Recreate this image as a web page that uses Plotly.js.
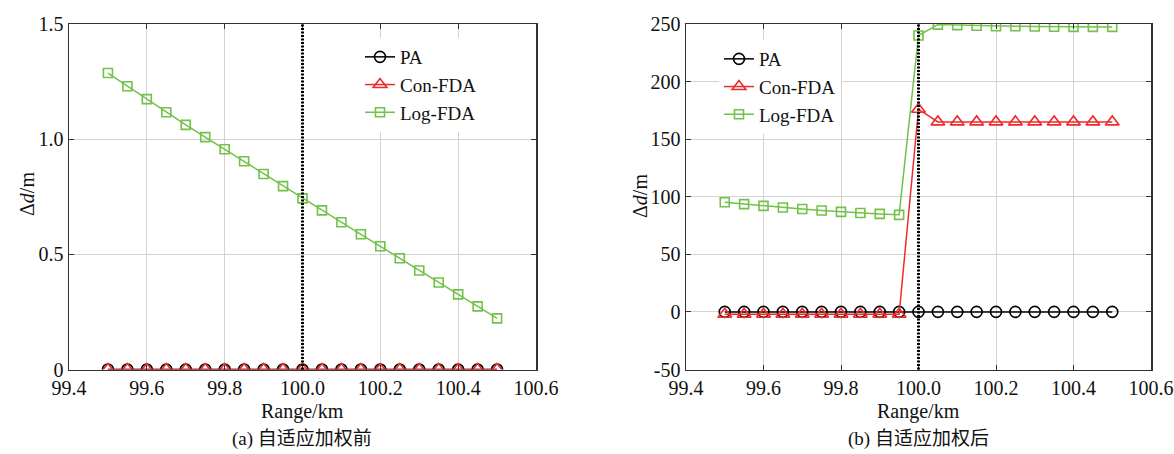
<!DOCTYPE html>
<html><head><meta charset="utf-8">
<script src="https://cdn.plot.ly/plotly-3.0.1.min.js"></script>
<style>html,body{margin:0;padding:0;background:#fff}#chart{width:1174px;height:454px}</style>
</head><body><div id="chart"></div>
<script>
// ---- data ----
const rangeKm = [99.5,99.55,99.6,99.65,99.7,99.75,99.8,99.85,99.9,99.95,100.0,100.05,100.1,100.15,100.2,100.25,100.3,100.35,100.4,100.45,100.5];
const paA  = [0,0,0,0,0,0,0,0,0,0,0,0,0,0,0,0,0,0,0,0,0];
const conA = [0,0,0,0,0,0,0,0,0,0,0,0,0,0,0,0,0,0,0,0,0];
const logA = [1.287,1.230,1.174,1.117,1.062,1.009,0.956,0.904,0.849,0.796,0.743,0.691,0.639,0.587,0.535,0.483,0.430,0.378,0.326,0.274,0.222];
const paB  = [0,0,0,0,0,0,0,0,0,0,0,0,0,0,0,0,0,0,0,0,0];
const conB = [-2,-2,-2,-2,-2,-2,-2,-2,-2,-2,176,165,165,165,165,165,165,165,165,165,165];
const logB = [95.2,93.6,92.1,90.7,89.3,88.0,86.9,85.9,85.1,84.3,240,249.5,249,248.5,248,248,247.8,247.6,247.5,247.5,247.5];
const targetKm = 100.0;
const seriesNames = ['PA','Con-FDA','Log-FDA'];
const xTickVals = [99.4,99.6,99.8,100.0,100.2,100.4,100.6];
const xTickText = ['99.4','99.6','99.8','100.0','100.2','100.4','100.6'];
const yTickValsA = [0,0.5,1.0,1.5];
const yTickTextA = ['0','0.5','1.0','1.5'];
const yTickValsB = [-50,0,50,100,150,200,250];
const yTickTextB = ['-50','0','50','100','150','200','250'];
const yTitle = 'Δ<i>d</i>/m';
const xTitle = 'Range/km';
const subTitles = ['(a) 自适应加权前','(b) 自适应加权后'];

// ---- style ----
const W = 1174, H = 454;
const FONT = 'Liberation Serif';
const CJK = 'Liberation Serif, Noto Sans CJK SC';
const colors = ['#000000','#ee2b2b','#72c148'];
const symbols = ['circle-open','triangle-up-open','square-open'];
const sizes = [11,12,9];

function mk(x, y, i, xa, ya, leg) {
  return {x: x, y: y, name: seriesNames[i], type: 'scatter', mode: 'lines+markers',
    xaxis: xa, yaxis: ya, legend: leg,
    line: {color: colors[i], width: 1.5},
    marker: {symbol: symbols[i], size: sizes[i], color: colors[i], line: {width: 1.6, color: colors[i]}}};
}
const traces = [
  mk(rangeKm, paA, 0, 'x', 'y', 'legend'),
  mk(rangeKm, conA, 1, 'x', 'y', 'legend'),
  mk(rangeKm, logA, 2, 'x', 'y', 'legend'),
  mk(rangeKm, paB, 0, 'x2', 'y2', 'legend2'),
  mk(rangeKm, conB, 1, 'x2', 'y2', 'legend2'),
  mk(rangeKm, logB, 2, 'x2', 'y2', 'legend2')
];

const px = v => v / W, py = v => 1 - v / H;
const axCommon = {showline: true, linecolor: '#333', linewidth: 1.5, mirror: 'ticks',
  ticks: 'inside', ticklen: 5, tickcolor: '#333', tickwidth: 1,
  showgrid: true, gridcolor: '#d3d3d3', gridwidth: 1, zeroline: false,
  tickfont: {family: FONT, size: 20, color: '#111'}, fixedrange: true};

const yDom = [py(369.5), py(24)];
const legFont = {family: FONT, size: 19, color: '#111'};
const annFont = {family: FONT, size: 20, color: '#111'};
const layout = {
  width: W, height: H, margin: {l: 0, r: 0, t: 0, b: 0},
  paper_bgcolor: '#fff', plot_bgcolor: '#fff',
  font: {family: FONT, size: 20, color: '#111'},
  xaxis: Object.assign({}, axCommon, {domain: [px(69), px(536)], range: [99.4, 100.6], tickvals: xTickVals, ticktext: xTickText, anchor: 'y'}),
  yaxis: Object.assign({}, axCommon, {domain: yDom, range: [0, 1.5], tickvals: yTickValsA, ticktext: yTickTextA, anchor: 'x'}),
  xaxis2: Object.assign({}, axCommon, {domain: [px(686), px(1151)], range: [99.4, 100.6], tickvals: xTickVals, ticktext: xTickText, anchor: 'y2'}),
  yaxis2: Object.assign({}, axCommon, {domain: yDom, range: [-50, 250], tickvals: yTickValsB, ticktext: yTickTextB, anchor: 'x2'}),
  legend: {x: px(360), y: py(38), xanchor: 'left', yanchor: 'top', bgcolor: '#fff', borderwidth: 0,
    font: legFont, tracegroupgap: 0},
  legend2: {x: px(719), y: py(40), xanchor: 'left', yanchor: 'top', bgcolor: '#fff', borderwidth: 0,
    font: legFont, tracegroupgap: 0},
  shapes: [
    {type: 'line', xref: 'x', yref: 'y domain', x0: targetKm, x1: targetKm, y0: 0, y1: 1, layer: 'above',
      line: {color: '#000', width: 3, dash: '2px,1.5px'}},
    {type: 'line', xref: 'x2', yref: 'y2 domain', x0: targetKm, x1: targetKm, y0: 0, y1: 1, layer: 'above',
      line: {color: '#000', width: 3, dash: '2px,1.5px'}}
  ],
  annotations: [
    {text: yTitle, xref: 'paper', yref: 'paper', x: px(27), y: py(194), xanchor: 'center', yanchor: 'middle', textangle: -90, showarrow: false, font: annFont},
    {text: yTitle, xref: 'paper', yref: 'paper', x: px(640), y: py(196), xanchor: 'center', yanchor: 'middle', textangle: -90, showarrow: false, font: annFont},
    {text: xTitle, xref: 'paper', yref: 'paper', x: px(302), y: py(411), xanchor: 'center', yanchor: 'middle', showarrow: false, font: annFont},
    {text: xTitle, xref: 'paper', yref: 'paper', x: px(918), y: py(411), xanchor: 'center', yanchor: 'middle', showarrow: false, font: annFont},
    {text: subTitles[0], xref: 'paper', yref: 'paper', x: px(302), y: py(439), xanchor: 'center', yanchor: 'middle', showarrow: false, font: {family: CJK, size: 19, color: '#111'}},
    {text: subTitles[1], xref: 'paper', yref: 'paper', x: px(918), y: py(439), xanchor: 'center', yanchor: 'middle', showarrow: false, font: {family: CJK, size: 19, color: '#111'}}
  ]
};
Plotly.newPlot('chart', traces, layout, {displayModeBar: false, staticPlot: true});
</script></body></html>
